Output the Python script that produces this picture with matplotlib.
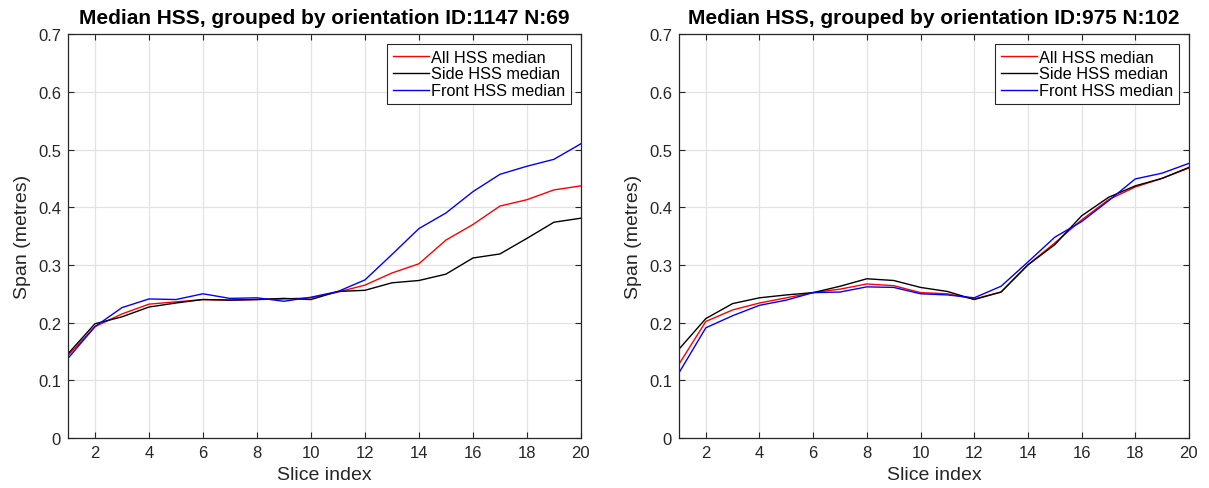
"""Median HSS span per slice, grouped by orientation, for two IDs."""

import matplotlib

matplotlib.use("Agg")
import matplotlib.pyplot as plt
import numpy as np

plt.rcParams["font.family"] = ["Liberation Sans", "DejaVu Sans"]

SLICES = np.arange(1, 21)

# ID 1147, N 69
LEFT_ALL = [0.143, 0.193, 0.215, 0.232, 0.236, 0.240, 0.239, 0.240, 0.241, 0.243,
            0.253, 0.265, 0.286, 0.302, 0.343, 0.370, 0.402, 0.413, 0.430, 0.437]
LEFT_SIDE = [0.146, 0.198, 0.210, 0.227, 0.234, 0.240, 0.239, 0.240, 0.242, 0.240,
             0.254, 0.256, 0.269, 0.273, 0.284, 0.312, 0.319, 0.346, 0.374, 0.381]
LEFT_FRONT = [0.138, 0.193, 0.226, 0.241, 0.240, 0.250, 0.242, 0.243, 0.237, 0.244,
              0.254, 0.274, 0.318, 0.363, 0.390, 0.427, 0.457, 0.471, 0.483, 0.510]

# ID 975, N 102
RIGHT_ALL = [0.128, 0.202, 0.222, 0.234, 0.243, 0.252, 0.258, 0.267, 0.264, 0.252,
             0.250, 0.241, 0.253, 0.300, 0.338, 0.378, 0.413, 0.435, 0.450, 0.468]
RIGHT_SIDE = [0.154, 0.207, 0.233, 0.243, 0.248, 0.252, 0.263, 0.276, 0.273, 0.261,
              0.254, 0.240, 0.253, 0.300, 0.335, 0.385, 0.417, 0.437, 0.450, 0.469]
RIGHT_FRONT = [0.113, 0.191, 0.212, 0.230, 0.239, 0.252, 0.253, 0.262, 0.261, 0.250,
               0.248, 0.243, 0.263, 0.305, 0.348, 0.375, 0.411, 0.449, 0.459, 0.476]

TITLES = [
    "Median HSS, grouped by orientation ID:1147 N:69",
    "Median HSS, grouped by orientation ID:975 N:102",
]
LABELS = ["All HSS median", "Side HSS median", "Front HSS median"]
COLORS = ["#ff0000", "#000000", "#0000ff"]
SPINE = "#262626"


def draw(ax, series, title):
    for values, label, color in zip(series, LABELS, COLORS):
        ax.plot(SLICES, values, color=color, linewidth=1.0, label=label)
    ax.set_xlim(1, 20)
    ax.set_ylim(0, 0.7)
    ax.set_xticks(np.arange(2, 21, 2))
    ax.set_yticks(np.arange(0, 0.71, 0.1))
    ax.set_yticklabels(["0"] + [f"{v:.1f}" for v in np.arange(0.1, 0.71, 0.1)])
    ax.grid(color="#e3e3e3", linewidth=0.9)
    ax.set_axisbelow(True)
    ax.tick_params(direction="in", top=True, right=True, length=4, width=0.8,
                   labelsize=12, colors=SPINE, pad=5)
    for edge in ax.spines.values():
        edge.set_color(SPINE)
        edge.set_linewidth(0.9)
    ax.set_xlabel("Slice index", fontsize=14, color=SPINE, labelpad=4)
    ax.set_ylabel("Span (metres)", fontsize=14, color=SPINE, labelpad=5)
    ax.set_title(title, fontsize=15, weight="bold", pad=8)
    legend = ax.legend(loc="upper right", fontsize=11.7, handlelength=2.2,
                       handletextpad=0.15, borderpad=0.35, labelspacing=0.12,
                       borderaxespad=0.6, fancybox=False, framealpha=1)
    legend.get_frame().set_edgecolor(SPINE)
    legend.get_frame().set_linewidth(0.8)


def main():
    fig = plt.figure(figsize=(12.09, 4.89), dpi=100)
    left = fig.add_axes([0.0562, 0.1022, 0.4243, 0.826])
    right = fig.add_axes([0.5616, 0.1022, 0.4218, 0.826])
    draw(left, [LEFT_ALL, LEFT_SIDE, LEFT_FRONT], TITLES[0])
    draw(right, [RIGHT_ALL, RIGHT_SIDE, RIGHT_FRONT], TITLES[1])
    fig.savefig("out.png", dpi=100, facecolor="white")


if __name__ == "__main__":
    main()
